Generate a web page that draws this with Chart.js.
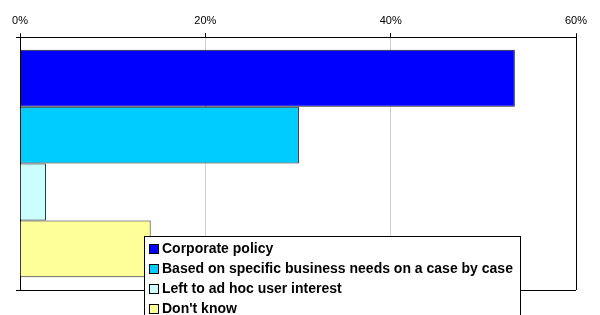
<!DOCTYPE html>
<html>
<head>
<meta charset="utf-8">
<script src="https://cdn.jsdelivr.net/npm/chart.js@4/dist/chart.umd.min.js"></script>
<style>
  html, body { margin: 0; padding: 0; background: #fff; }
  #wrap { position: relative; width: 600px; height: 315px; }
</style>
</head>
<body>
<div id="wrap"><canvas id="chart" width="600" height="315"></canvas></div>
<script>
// survey answers, one bar each (percent of respondents)
const seriesNames = [
  "Corporate policy",
  "Based on specific business needs on a case by case",
  "Left to ad hoc user interest",
  "Don't know"
];
const seriesValues = [53.4, 30.1, 2.8, 14.1];
const tickValues = [0, 20, 40, 60];

const seriesColors = ['#0000ff', '#00ccff', '#ccffff', '#ffff99'];
const FONT = '"Liberation Sans", Arial, sans-serif';

// legend sits on top of the plot, like the original sheet
const boxLegend = {
    id: 'boxLegend',
    afterDraw(chart){
        let ctx = chart.ctx;
        ctx.save();
        ctx.fillStyle = '#fff';
        ctx.fillRect(144, 237, 376, 90);
        ctx.strokeStyle = '#000';
        ctx.lineWidth = 1;
        ctx.strokeRect(144.5, 236.5, 376, 90);
        ctx.font = 'bold 14px ' + FONT;
        ctx.textBaseline = 'middle';
        chart.data.datasets.forEach((ds, i) => {
            let y = 248.5 + i * 20;
            ctx.fillStyle = ds.backgroundColor;
            ctx.fillRect(149, Math.round(y - 4.5), 9, 9);
            ctx.strokeStyle = '#000';
            ctx.strokeRect(149.5, Math.round(y - 4.5) + 0.5, 9, 9);
            ctx.fillStyle = '#000';
            ctx.fillText(ds.label, 162, y + 0.5);
        });
        ctx.restore();
    }
};

new Chart(document.getElementById('chart'), {
    type: 'bar',
    data: {
        labels: [''],
        datasets: seriesNames.map((name, i) => ({
            label: name,
            data: [seriesValues[i]],
            backgroundColor: seriesColors[i],
            borderColor: '#222',
            borderWidth: 1,
            categoryPercentage: 0.9,
            barPercentage: 1
        }))
    },
    options: {
        indexAxis: 'y',
        responsive: false,
        animation: false,
        layout: { padding: { left: 16, right: 24, top: 8, bottom: 25 } },
        scales: {
            x: {
                position: 'top',
                min: 0,
                max: 60,
                afterBuildTicks: (scale) => { scale.ticks = tickValues.map(v => ({value: v})); },
                ticks: {
                    callback: (v) => v + '%',
                    font: { family: FONT, size: 11 },
                    color: '#000',
                    padding: 6,
                    maxRotation: 0
                },
                grid: {
                    color: (c) => (c.tick && (c.tick.value === 0 || c.tick.value === 60)) ? '#000' : '#d0d0d0',
                    tickColor: '#000',
                    tickLength: 4
                },
                border: { color: '#000' }
            },
            y: {
                offset: true,
                ticks: { display: false },
                grid: { color: '#000', tickLength: 4, offset: true },
                border: { color: '#000' }
            }
        },
        plugins: {
            legend: { display: false },
            tooltip: { enabled: false }
        }
    },
    plugins: [boxLegend]
});
</script>
</body>
</html>
